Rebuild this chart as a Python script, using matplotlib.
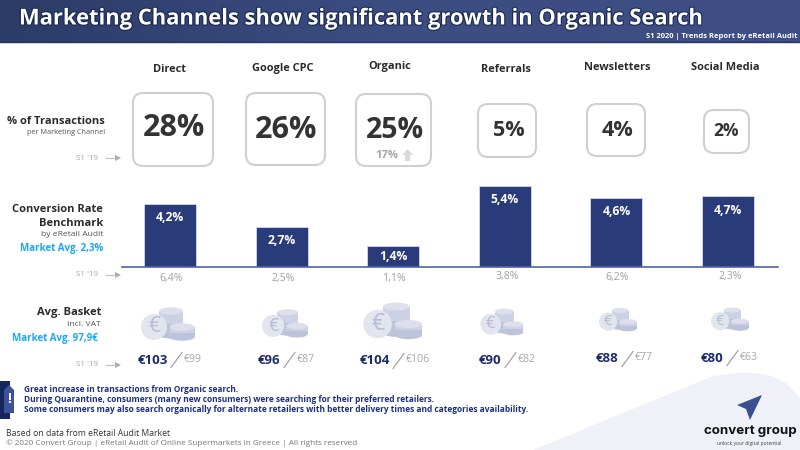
import matplotlib
matplotlib.use("Agg")
import matplotlib.pyplot as plt
import matplotlib.patheffects as pe
from matplotlib.patches import FancyBboxPatch, Polygon, Ellipse, Circle, Rectangle
import numpy as np

channels = ["Direct", "Google CPC", "Organic", "Referrals", "Newsletters", "Social Media"]
transactions = [28, 26, 25, 5, 4, 2]
conversion = [4.2, 2.7, 1.4, 5.4, 4.6, 4.7]
conversion_prev = [6.4, 2.5, 1.1, 3.8, 6.2, 2.3]
basket = [103, 96, 104, 90, 88, 80]
basket_prev = [99, 87, 106, 82, 77, 63]

FONT = "Open Sans"
NAVY = "#2a3b7a"
DARK = "#2b2b2b"
GREY = "#a6a6a6"
BLUE = "#1aa7f5"
plt.rcParams["font.family"] = [FONT, "DejaVu Sans"]

fig = plt.figure(figsize=(8, 4.5), dpi=100)

# 전체 캔버스 (픽셀 좌표)
ax = fig.add_axes([0, 0, 1, 1])
ax.axis("off")

# header
grad = np.linspace(0, 1, 256).reshape(1, -1)
ax.imshow(grad, extent=(0, 800, 42, 0), aspect="auto", zorder=1,
          cmap=matplotlib.colors.LinearSegmentedColormap.from_list("h", ["#2b3c68", "#3c4d82", "#3f4f85"]))
ax.set_xlim(0, 800)
ax.set_ylim(450, 0)
ax.plot([0, 800], [42, 42], color="#24345f", lw=1, zorder=2)
ax.text(19, 19, "Marketing Channels show significant growth in Organic Search", color="white",
        fontsize=15.8, fontweight="bold", va="center", ha="left", zorder=3,
        path_effects=[pe.withStroke(linewidth=1.6, foreground="#1c2950")])
ax.text(797, 36.5, "S1 2020 | Trends Report by eRetail Audit", color="white", fontsize=5.4,
        fontweight="bold", va="center", ha="right", zorder=3)

# 오른쪽 아래 배경 + 로고
ax.add_patch(Polygon([(533, 450), (713, 376), (735, 373), (755, 373), (772, 376), (787, 384), (800, 398), (800, 450)],
                     closed=True, fc="#f0f1f8", ec="none", zorder=1))
ax.add_patch(Polygon([(762, 395), (737, 405), (746, 409), (750, 420)], closed=True, fc="#3a4f8f", ec="none", zorder=2))
ax.text(750, 431, "convert group", color="#111111", fontsize=9.6, fontweight="bold", ha="center", va="center",
        family=["Inter", "DejaVu Sans"], zorder=3)
ax.text(749, 443, "unlock your digital potential", color="#444444", fontsize=3.6, ha="center", va="center", zorder=3)

# channel names
name_xy = [(169, 69), (283, 68), (390, 67), (506, 69), (617, 68), (725, 68)]
for name, (x, y) in zip(channels, name_xy):
    ax.text(x, y, name, color=DARK, fontsize=7.9, fontweight="bold", ha="center", va="center")

# transaction boxes
boxes = [(133, 93, 80, 73), (246, 93, 79, 72), (356, 94, 75, 72), (478, 104, 58, 53), (587, 104, 58, 52), (704, 110, 45, 43)]
sizes = [22, 22, 20.5, 15.6, 15.6, 12.5]
text_xy = [(173.5, 128.5), (286.5, 129.5), (395, 130), (509, 131), (618, 130.5), (726, 131)]
for val, (x, y, w, h), fs, (tx, ty) in zip(transactions, boxes, sizes, text_xy):
    ax.add_patch(FancyBboxPatch((x + 9, y + 9), w - 18, h - 18, boxstyle="round,pad=9,rounding_size=10",
                                fc="white", ec="#d0d0d0", lw=1.5, zorder=2))
    ax.text(tx, ty, f"{val}%", color="#333333", fontsize=fs, fontweight="bold",
            ha="center", va="center", zorder=3)
ax.text(387, 156, "17%", color=GREY, fontsize=8, fontweight="bold", ha="center", va="center", zorder=3)
ax.add_patch(Polygon([(407.5, 149), (413, 155), (410, 155), (410, 161), (405, 161), (405, 155), (402, 155)],
                     closed=True, fc="#d9d9d9", ec="none", zorder=3))

# 왼쪽 라벨
ax.text(105, 121, "% of Transactions", color=DARK, fontsize=8, fontweight="bold", ha="right", va="center")
ax.text(105, 133, "per Marketing Channel", color="#555555", fontsize=5.2, ha="right", va="center")
ax.text(103, 209, "Conversion Rate", color=DARK, fontsize=8, fontweight="bold", ha="right", va="center")
ax.text(103, 223, "Benchmark", color=DARK, fontsize=8, fontweight="bold", ha="right", va="center")
ax.text(103, 235, "by eRetail Audit", color="#555555", fontsize=6.1, ha="right", va="center")
ax.text(103, 249, "Market Avg. 2,3%", color=BLUE, fontsize=7, fontweight="bold", ha="right", va="center")
ax.text(101, 312, "Avg. Basket", color=DARK, fontsize=8, fontweight="bold", ha="right", va="center")
ax.text(101, 325, "Incl. VAT", color="#555555", fontsize=6.1, ha="right", va="center")
ax.text(97.5, 338, "Market Avg. 97,9€", color=BLUE, fontsize=7, fontweight="bold", ha="right", va="center")

# S1 '19 화살표
for y in [158, 275, 365]:
    ax.text(98, y, "S1 '19", color=GREY, fontsize=5.8, ha="right", va="center")
    ax.plot([106, 116], [y, y], color="#bdbdbd", lw=0.8)
    ax.add_patch(Polygon([(115, y - 3), (121, y), (115, y + 3)], closed=True, fc="#a9a9a9", ec="none"))

# bar chart
bar_ax = fig.add_axes([122 / 800, 1 - 267 / 450, (778 - 122) / 800, 87 / 450])
bar_ax.set_xlim((122 - 170) / 111.6, (778 - 170) / 111.6)
bar_ax.set_ylim(0, 5.8)
bar_ax.patch.set_alpha(0)
pos = np.arange(len(channels))
bars = bar_ax.bar(pos, conversion, width=0.466, color=NAVY, edgecolor="#d5daec", linewidth=0.6)
for b, v in zip(bars, conversion):
    bar_ax.text(b.get_x() + b.get_width() / 2, max(v - 0.9, 0.72), f"{v:.1f}%".replace(".", ","), color="white",
                fontsize=8.7, fontweight="bold", ha="center", va="center")
for s in ["top", "left", "right"]:
    bar_ax.spines[s].set_visible(False)
bar_ax.spines["bottom"].set_color("#4f64a8")
bar_ax.spines["bottom"].set_linewidth(1.2)
bar_ax.set_xticks([])
bar_ax.set_yticks([])

# 작년 전환율
prev_xy = [(171, 278.5), (283, 278.5), (394, 278.5), (507, 277), (617, 277.5), (730, 277)]
for v, (x, y) in zip(conversion_prev, prev_xy):
    ax.text(x, y, f"{v:.1f}%".replace(".", ","), color="#a0a0a0", fontsize=7.6, ha="center", va="center")


def coins(cx, cy, s):
    # cx, cy = 동전 묶음 중심, s = 크기
    def stack(x, y, rx, h):
        ry = rx * 0.3
        ax.add_patch(Ellipse((x, y + h), rx * 2, ry * 2, fc="#bcc3da", ec="none", zorder=3))
        ax.add_patch(Rectangle((x - rx, y), rx * 2, h, fc="#bcc3da", ec="none", zorder=3))
        ax.add_patch(Rectangle((x - rx, y), rx * 2, h * 0.55, fc="#ccd1e3", ec="none", zorder=3))
        ax.add_patch(Ellipse((x, y), rx * 2, ry * 2, fc="#dde0ec", ec="none", zorder=3))
    stack(cx + 3 * s, cy - 15 * s, 12 * s, 24 * s)
    ax.add_patch(Circle((cx - 14 * s, cy + 1 * s), 13 * s, fc="#e2e4ee", ec="none", zorder=4))
    ax.text(cx - 14 * s, cy + 1 * s, "€", color="#b5bcd4", fontsize=15 * s, ha="center", va="center", zorder=5)
    stack(cx + 14 * s, cy + 1 * s, 12.5 * s, 10 * s)


coin_xy = [(168, 326, 1.0), (285, 325, 0.85), (393, 323, 1.1), (502, 323.5, 0.8), (618, 321, 0.7), (730, 320.5, 0.7)]
for cx, cy, s in coin_xy:
    coins(cx, cy, s)

# 장바구니 금액
now_x = [152.5, 269, 374.5, 490, 607, 712]
now_y = [360, 360, 361, 360, 359, 358]
for b, p, x, y in zip(basket, basket_prev, now_x, now_y):
    ax.text(x, y, f"€{b}", color="#1c2b6b", fontsize=9.5, fontweight="bold", ha="center", va="center")
    half = 14.5 if b >= 100 else 11
    ax.plot([x + half + 4, x + half + 15], [y + 7.5, y - 7.5], color="#9a9a9a", lw=0.8)
    ax.text(x + half + 17, y - 1, f"€{p}", color="#a8a8a8", fontsize=7.6, ha="left", va="center")

# 노트
ax.add_patch(Rectangle((0, 381), 10, 38, fc="#14265c", ec="none", zorder=2))
ax.add_patch(Polygon([(4, 390), (9, 385), (14, 390), (14, 413), (4, 413)], closed=True, fc="#3c5199", ec="none", zorder=3))
ax.text(9, 399, "!", color="white", fontsize=10, fontweight="bold", ha="center", va="center", zorder=4)
note = ["Great increase in transactions from Organic search.",
        "During Quarantine, consumers (many new consumers) were searching for their preferred retailers.",
        "Some consumers may also search organically for alternate retailers with better delivery times and categories availability."]
for line, y in zip(note, [389, 400, 410]):
    ax.text(24, y, line, color="#1c2f80", fontsize=6.0, fontweight="bold", ha="left", va="center", zorder=3)

ax.text(6, 434, "Based on data from eRetail Audit Market", color="#333333", fontsize=6.2, ha="left", va="center")
ax.text(6, 443, "© 2020 Convert Group | eRetail Audit of Online Supermarkets in Greece | All rights reserved",
        color="#777777", fontsize=5.85, ha="left", va="center")

fig.savefig("out.png", dpi=100)
